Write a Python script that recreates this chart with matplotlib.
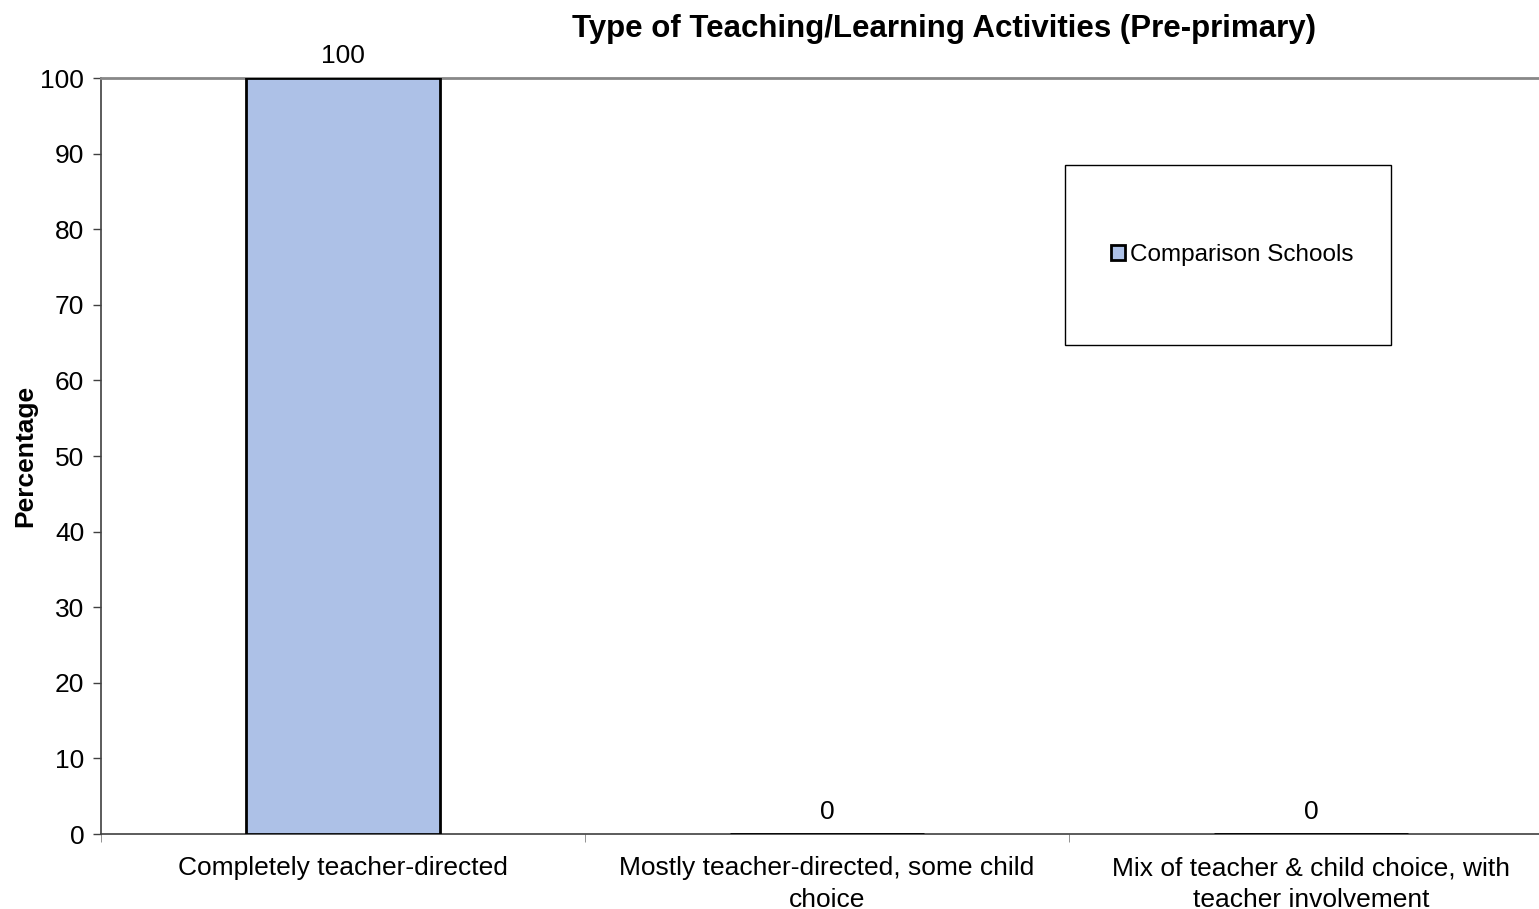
import matplotlib
matplotlib.use('Agg')
import matplotlib.pyplot as plt
from matplotlib.patches import Rectangle
import numpy as np

plt.rcParams['font.family'] = ['Liberation Sans', 'DejaVu Sans']

# data
categories = ['Completely teacher-directed',
              'Mostly teacher-directed, some child\nchoice',
              'Mix of teacher & child choice, with\nteacher involvement']
values = [100, 0, 0]
series_name = 'Comparison Schools'
title = 'Type of Teaching/Learning Activities (Pre-primary)'

W, H = 1539, 909
fig = plt.figure(figsize=(W/100, H/100), dpi=100)
ax = fig.add_axes([101/W, 1-834/H, 1452/W, 756/H])

x = np.arange(len(categories))
bars = ax.bar(x, values, width=0.4, color='#adc1e7', edgecolor='black',
              linewidth=2, label=series_name, zorder=3)

for xi, v in zip(x, values):
    ax.annotate('%d' % v, (xi, v), xytext=(0, 16), textcoords='offset points',
                ha='center', va='center', fontsize=19)

ax.set_xlim(-0.5, 2.5)
ax.set_ylim(0, 100)
ax.set_yticks(np.arange(0, 101, 10))
ax.tick_params(axis='y', labelsize=19, length=6, width=1, direction='out',
               color='#404040', pad=6)

ax.set_xticks(x)
ax.set_xticklabels(categories, fontsize=19, linespacing=1.4)
ax.tick_params(axis='x', length=0, pad=16)
ax.set_xticks([-0.5, 0.5, 1.5, 2.5], minor=True)
ax.tick_params(axis='x', which='minor', length=6, color='#808080')

ax.spines['right'].set_visible(False)
ax.spines['top'].set_color('#888888')
ax.spines['top'].set_linewidth(2)
ax.spines['left'].set_color('#404040')
ax.spines['bottom'].set_color('#404040')
ax.spines['left'].set_linewidth(1.2)
ax.spines['bottom'].set_linewidth(1.2)

ax.set_ylabel('Percentage', fontsize=19, fontweight='bold', labelpad=2)

fig.text(944/W, 1-29/H, title, ha='center', va='center',
         fontsize=22.5, fontweight='bold')

# legend box (drawn separately so it can be taller than the entry)
fig.patches.append(Rectangle((1065/W, 1-345/H), 326/W, 180/H,
                             transform=fig.transFigure, fill=False,
                             edgecolor='black', linewidth=1))
leg = ax.legend(loc='center', bbox_to_anchor=((1232-101)/1452, (834-255)/756),
                frameon=False, fontsize=17.5, handlelength=0.6,
                handleheight=0.6, handletextpad=0.2, borderpad=0,
                borderaxespad=0)

fig.savefig('out.png', dpi=100)
